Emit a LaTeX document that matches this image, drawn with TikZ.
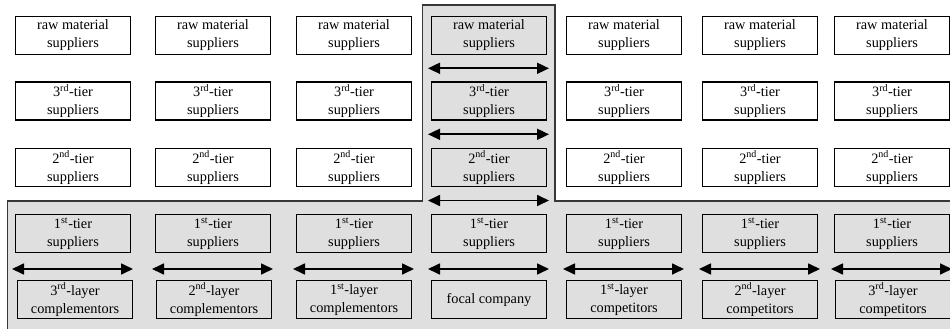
\documentclass[tikz,border=0pt]{standalone}
\usepackage{fontspec}
\setmainfont{Liberation Serif}
\usetikzlibrary{arrows.meta}
\definecolor{layergray}{RGB}{223,223,223}
\definecolor{edgegray}{RGB}{55,55,55}
\begin{document}
\begin{tikzpicture}[x=1pt,y=-1pt,
  box/.style={draw=black, line width=1.5pt, minimum width=115pt, minimum height=38pt,
    inner sep=0pt, align=center, font=\fontsize{14.3}{18}\selectfont},
  link/.style={line width=1.7pt,
    {Triangle[length=12pt,width=11pt]}-{Triangle[length=12pt,width=11pt]}}]
\clip (0,0) rectangle (950,329);
\fill[white] (0,0) rectangle (950,329);

% shaded region: focal company's vertical chain plus the horizontal layer
\filldraw[fill=layergray, draw=edgegray, line width=1.2pt]
  (422.7,5) -- (555,5) -- (555,201) -- (962,201) -- (962,342)
  -- (7.3,342) -- (7.3,201) -- (422.7,201) -- cycle;

% supplier tiers; the focal column (4) sits inside the shaded region
\foreach \i/\x/\f in {1/73/white,2/213/white,3/354/white,4/489/layergray,5/624/white,6/760/white,7/892/white}{
  \node[box, fill=\f] (raw\i) at (\x,35.5) {raw material\\suppliers};
  \node[box, fill=\f] (tthree\i) at (\x,101) {3\textsuperscript{rd}-tier\\suppliers};
  \node[box, fill=\f] (ttwo\i) at (\x,167.5) {2\textsuperscript{nd}-tier\\suppliers};
  \node[box] (tone\i) at (\x,233.7) {1\textsuperscript{st}-tier\\suppliers};
  \coordinate (bl\i) at (\x-61,269);
  \coordinate (br\i) at (\x+60,269);
}

% bottom layer: complementors, focal company, competitors
\node[box] (comp3) at (75,299.6) {3\textsuperscript{rd}-layer\\complementors};
\node[box] (comp2) at (214,299.6) {2\textsuperscript{nd}-layer\\complementors};
\node[box] (comp1) at (354,299.6) {1\textsuperscript{st}-layer\\complementors};
\node[box] (focal) at (489,299.6) {focal company};
\node[box] (cmpt1) at (624,299.6) {1\textsuperscript{st}-layer\\competitors};
\node[box] (cmpt2) at (760,299.6) {2\textsuperscript{nd}-layer\\competitors};
\node[box] (cmpt3) at (893,299.6) {3\textsuperscript{rd}-layer\\competitors};

% interaction arrows in the focal column
\coordinate (va1) at (428,68.3);  \coordinate (vb1) at (549,68.3);
\coordinate (va2) at (428,134.3); \coordinate (vb2) at (549,134.3);
\coordinate (va3) at (428,200.5); \coordinate (vb3) at (549,200.5);
\foreach \k in {1,2,3}{ \draw[link] (va\k) -- (vb\k); }

% interaction arrows in the horizontal layer
\foreach \i in {1,...,7}{ \draw[link] (bl\i) -- (br\i); }
\end{tikzpicture}
\end{document}
